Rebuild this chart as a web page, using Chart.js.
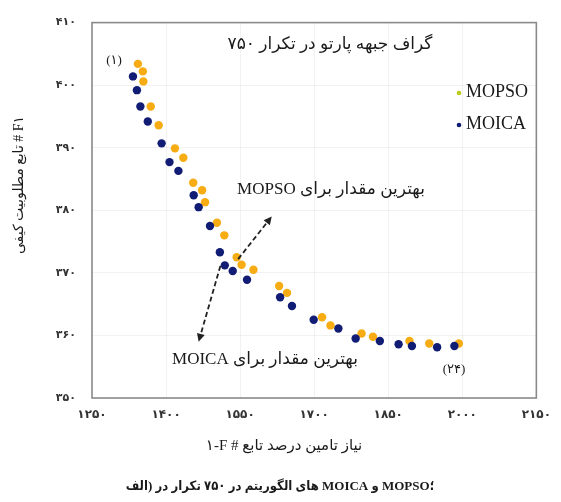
<!DOCTYPE html>
<html>
<head>
<meta charset="utf-8">
<script src="https://cdn.jsdelivr.net/npm/chart.js@4.4.0/dist/chart.umd.min.js"></script>
<style>
html,body{margin:0;padding:0;background:#fff;}
#wrap{width:561px;height:502px;}
</style>
</head>
<body>
<div id="wrap"><canvas id="c" width="561" height="502"></canvas></div>
<script>
// ---- data ----
const mopsoX = [1343,1353,1354,1369,1385,1418,1435,1455,1473,1479,1503,1518,1543,1553,1577,1629,1645,1716,1733,1796,1819,1893,1933,1993];
const mopsoY = [403.4,402.2,400.6,396.6,393.6,389.9,388.4,384.4,383.2,381.3,378.0,376.0,372.5,371.3,370.5,367.9,366.8,362.9,361.6,360.3,359.8,359.1,358.7,358.7];
const moicaX = [1333,1341,1348,1363,1391,1407,1425,1456,1466,1489,1509,1519,1535,1564,1631,1655,1699,1749,1784,1833,1871,1898,1949,1984];
const moicaY = [401.4,399.2,396.6,394.2,390.7,387.7,386.3,382.4,380.5,377.5,373.3,371.2,370.3,368.9,366.1,364.7,362.5,361.1,359.5,359.1,358.6,358.3,358.1,358.3];
const seriesNames = ['MOPSO','MOICA'];
const xTickValues = [1250,1400,1550,1700,1850,2000,2150];
const xTickLabels = ['۱۲۵۰','۱۴۰۰','۱۵۵۰','۱۷۰۰','۱۸۵۰','۲۰۰۰','۲۱۵۰'];
const yTickValues = [350,360,370,380,390,400,410];
const yTickLabels = ['۳۵۰','۳۶۰','۳۷۰','۳۸۰','۳۹۰','۴۰۰','۴۱۰'];
const chartTitle = 'گراف جبهه پارتو در تکرار ۷۵۰';
const xTitle = '۱-F # تابع درصد تامین نیاز';
const yTitle = 'F۱ # تابع مطلوبیت کیفی';
const caption = 'الف) در تکرار ۷۵۰ در الگوریتم های MOICA و MOPSO؛';
const noteMopso = 'بهترین مقدار برای MOPSO';
const noteMoica = 'بهترین مقدار برای MOICA';
const firstLabel = '(۱)';
const lastLabel = '(۲۴)';

const ORANGE = '#F6AC12';
const NAVY = '#111C74';
const toPts = (xs, ys) => xs.map((x, i) => ({x: x, y: ys[i]}));
const SERIF = '"Liberation Serif", "DejaVu Serif", "DejaVu Sans"';
const SERIF_C = '"Liberation Serif", "DejaVu Sans Condensed", "DejaVu Sans"';

// words laid out left-to-right as in the reference, each piece shaped on its own
function drawWordsLTR(ctx, text, cx, cy) {
  const words = text.split(' ').map(w => w.split(/([\u0600-\u06EF\u06FA-\u06FF]+)/).filter(p => p.length));
  const sp = ctx.measureText(' ').width;
  let total = 0;
  words.forEach((w, i) => { w.forEach(p => total += ctx.measureText(p).width); if (i) total += sp; });
  let x = cx - total / 2;
  ctx.save();
  ctx.textAlign = 'left';
  ctx.direction = 'ltr';
  words.forEach((w, i) => {
    if (i) x += sp;
    w.forEach(p => { ctx.fillText(p, x, cy); x += ctx.measureText(p).width; });
  });
  ctx.restore();
}

function arrow(ctx, x1, y1, x2, y2) {
  ctx.save();
  ctx.strokeStyle = '#222'; ctx.fillStyle = '#222';
  ctx.lineWidth = 1.8; ctx.setLineDash([5, 3]);
  const a = Math.atan2(y2 - y1, x2 - x1);
  const L = 8;
  ctx.beginPath(); ctx.moveTo(x1, y1); ctx.lineTo(x2 - Math.cos(a) * L * 0.8, y2 - Math.sin(a) * L * 0.8); ctx.stroke();
  ctx.setLineDash([]);
  ctx.beginPath();
  ctx.moveTo(x2, y2);
  ctx.lineTo(x2 - L * Math.cos(a) + 4 * Math.sin(a), y2 - L * Math.sin(a) - 4 * Math.cos(a));
  ctx.lineTo(x2 - L * Math.cos(a) - 4 * Math.sin(a), y2 - L * Math.sin(a) + 4 * Math.cos(a));
  ctx.closePath(); ctx.fill();
  ctx.restore();
}

const decor = {
  id: 'decor',
  afterDraw(chart) {
    const ctx = chart.ctx, a = chart.chartArea;
    const xs = chart.scales.x, ys = chart.scales.y;
    ctx.save();
    // plot border
    ctx.strokeStyle = '#8a8a8a'; ctx.lineWidth = 1.6;
    ctx.strokeRect(a.left, a.top, a.right - a.left, a.bottom - a.top);

    ctx.fillStyle = '#1a1a1a';
    ctx.textBaseline = 'middle';
    ctx.textAlign = 'center';
    ctx.direction = 'ltr';
    // in-plot title
    ctx.font = '17px ' + SERIF;
    ctx.fillText(chartTitle, 330, 45);
    // point labels
    ctx.font = '13px ' + SERIF;
    ctx.fillText(firstLabel, 114, 61);
    ctx.fillText(lastLabel, 454, 370);
    // notes (right-to-left paragraph)
    ctx.direction = 'rtl';
    ctx.font = '17px ' + SERIF;
    ctx.fillText(noteMopso, 331, 190);
    ctx.fillText(noteMoica, 265, 360);
    ctx.direction = 'ltr';
    // legend
    ctx.textAlign = 'left';
    ctx.font = '18px ' + SERIF;
    ctx.fillText(seriesNames[0], 466, 92);
    ctx.fillText(seriesNames[1], 466, 124);
    ctx.fillStyle = '#B9CC1A';
    ctx.beginPath(); ctx.arc(459, 93, 2.3, 0, Math.PI * 2); ctx.fill();
    ctx.fillStyle = NAVY;
    ctx.beginPath(); ctx.arc(459, 125, 2.3, 0, Math.PI * 2); ctx.fill();
    // arrows (anchored in data space)
    arrow(ctx, xs.getPixelForValue(1546), ys.getPixelForValue(372.2), xs.getPixelForValue(1614), ys.getPixelForValue(379.0));
    arrow(ctx, xs.getPixelForValue(1510), ys.getPixelForValue(371.1), xs.getPixelForValue(1466), ys.getPixelForValue(359.0));
    // axis titles
    ctx.fillStyle = '#1a1a1a';
    ctx.textAlign = 'center';
    ctx.font = '15px ' + SERIF;
    drawWordsLTR(ctx, xTitle, 284, 446);
    ctx.font = 'bold 13px ' + SERIF_C;
    drawWordsLTR(ctx, caption, 280, 487);
    ctx.save();
    ctx.translate(19, 185);
    ctx.rotate(-Math.PI / 2);
    ctx.direction = 'rtl';
    ctx.font = '14px ' + SERIF;
    ctx.fillText(yTitle, 0, 0);
    ctx.restore();
    ctx.restore();
  }
};

new Chart(document.getElementById('c'), {
  type: 'scatter',
  data: {
    datasets: [
      { label: seriesNames[1], data: toPts(moicaX, moicaY), backgroundColor: NAVY, borderColor: NAVY, pointRadius: 4.2, pointHoverRadius: 4.2, borderWidth: 0 },
      { label: seriesNames[0], data: toPts(mopsoX, mopsoY), backgroundColor: ORANGE, borderColor: ORANGE, pointRadius: 4.2, pointHoverRadius: 4.2, borderWidth: 0 }
    ]
  },
  options: {
    responsive: false,
    animation: false,
    devicePixelRatio: 1,
    layout: { padding: { left: 0, right: 18, top: 20, bottom: 0 } },
    plugins: { legend: { display: false }, tooltip: { enabled: false }, title: { display: false } },
    scales: {
      x: {
        type: 'linear', min: 1250, max: 2150,
        afterBuildTicks: s => { s.ticks = xTickValues.map(v => ({value: v})); },
        afterFit: s => { s.height = 104; },
        grid: { color: 'rgba(0,0,0,0.05)', drawTicks: false },
        border: { display: false },
        ticks: {
          padding: 10, color: '#333', maxRotation: 0,
          font: { family: 'DejaVu Sans', size: 12, weight: 'bold' },
          callback: v => { const i = xTickValues.indexOf(v); return i >= 0 ? xTickLabels[i] : ''; }
        }
      },
      y: {
        type: 'linear', min: 350, max: 410,
        afterBuildTicks: s => { s.ticks = yTickValues.map(v => ({value: v})); },
        afterFit: s => { s.width = 92; },
        grid: { color: 'rgba(0,0,0,0.05)', drawTicks: false },
        border: { display: false },
        ticks: {
          padding: 16, color: '#333',
          font: { family: 'DejaVu Sans', size: 11, weight: 'bold' },
          callback: v => { const i = yTickValues.indexOf(v); return i >= 0 ? yTickLabels[i] : ''; }
        }
      }
    }
  },
  plugins: [decor]
});
</script>
</body>
</html>
